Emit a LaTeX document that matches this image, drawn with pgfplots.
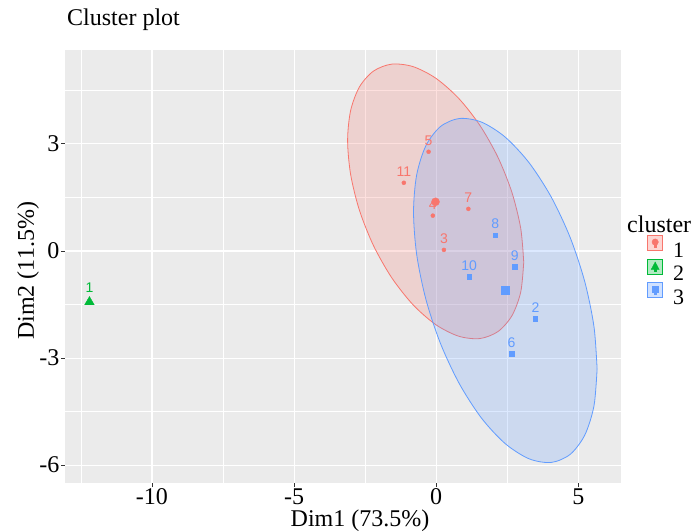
\documentclass[border=0pt]{standalone}
\usepackage{fontspec}
\setmainfont{Liberation Serif}
\newfontfamily\lsans{Liberation Sans}
\usepackage{pgfplots}
\usepackage{pgfplotstable}
\pgfplotsset{compat=1.18}
\definecolor{cred}{HTML}{F8766D}
\definecolor{cgreen}{HTML}{00BA38}
\definecolor{cblue}{HTML}{619CFF}
\definecolor{panel}{HTML}{EBEBEB}
\definecolor{tickc}{HTML}{333333}

\pgfplotstableread{
x y lab
-0.27 2.78 5
-1.14 1.91 11
-0.12 0.99 4
1.13 1.18 7
0.27 0.03 3
}\clusterone
\pgfplotstableread{
x y lab
-12.2 -1.43 1
}\clustertwo
\pgfplotstableread{
x y lab
2.08 0.45 8
2.76 -0.44 9
1.16 -0.72 10
3.49 -1.90 2
2.65 -2.88 6
}\clusterthree
\pgfplotstableread{
x y
3.078 -0.317
2.972 0.634
2.663 1.638
2.171 2.624
1.529 3.526
0.782 4.282
-0.020 4.842
-0.822 5.166
-1.569 5.234
-2.211 5.038
-2.703 4.594
-3.012 3.932
-3.118 3.097
-3.012 2.146
-2.703 1.142
-2.211 0.156
-1.569 -0.746
-0.822 -1.502
-0.020 -2.062
0.782 -2.386
1.529 -2.454
2.171 -2.258
2.663 -1.814
2.972 -1.152
3.078 -0.317
}\ellone
\pgfplotstableread{
x y
5.659 -3.305
5.549 -2.119
5.226 -0.863
4.713 0.375
4.045 1.512
3.266 2.472
2.430 3.187
1.594 3.610
0.816 3.712
0.147 3.485
-0.366 2.945
-0.689 2.129
-0.799 1.093
-0.689 -0.093
-0.366 -1.349
0.147 -2.587
0.816 -3.724
1.594 -4.684
2.430 -5.399
3.266 -5.822
4.045 -5.924
4.713 -5.697
5.226 -5.157
5.549 -4.341
5.659 -3.305
}\ellthree

\begin{document}
\begin{tikzpicture}
\begin{axis}[
  at={(0,0)}, anchor=south west,
  scale only axis, width=556pt, height=433pt,
  xmin=-13.06, xmax=6.5, ymin=-6.5, ymax=5.63,
  axis background/.style={fill=panel},
  axis line style={draw=none},
  xtick={-10,-5,0,5}, xticklabels={-10,-5,0,5},
  ytick={-6,-3,0,3}, yticklabels={-6,-3,0,3},
  minor xtick={-12.5,-7.5,-2.5,2.5},
  minor ytick={-4.5,-1.5,1.5,4.5},
  grid=both,
  major grid style={white, line width=1.1pt},
  minor grid style={white, line width=0.55pt},
  tick align=outside, xtick pos=bottom, ytick pos=left,
  major tick length=4pt, minor tick length=0pt,
  major tick style={color=tickc, line width=0.9pt},
  ticklabel style={font=\fontsize{24}{28}\selectfont, text=black},
  xticklabel style={inner sep=1.5pt},
  yticklabel style={inner sep=1.5pt},
  title={Cluster plot},
  title style={at={(axis description cs:0.0036,1.0416)}, anchor=base west, inner sep=0pt, font=\fontsize{24}{28}\selectfont},
  xlabel={Dim1 (73.5\%)},
  x label style={at={(axis description cs:0.5306,-0.0993)}, anchor=base, inner sep=0pt, font=\fontsize{24}{28}\selectfont},
  ylabel={Dim2 (11.5\%)},
  y label style={at={(axis description cs:-0.0665,0.49)}, anchor=center, inner sep=0pt, font=\fontsize{24}{28}\selectfont},
  clip=false,
  legend style={at={(axis description cs:1.0468,0.573)}, anchor=north west, draw=none, fill=none, inner sep=0pt,
    row sep=0pt, font=\fontsize{22}{24}\selectfont, nodes={inner sep=0pt},
    /tikz/every odd column/.append style={column sep=10pt}},
  legend cell align=left,
  every node near coord/.append style={font=\lsans\fontsize{14}{15}\selectfont, anchor=south, inner sep=0pt, yshift=6pt},
]
% legend entries
\addlegendimage{legend image code/.code={
  \draw[cred, fill=cred, fill opacity=0.3, line width=0.9pt] (0pt,0pt) rectangle (15pt,15pt);
  \fill[cred] (7.5pt,8.5pt) circle (3.2pt);
  \fill[cred] (7pt,3.5pt) rectangle (8.5pt,7pt);}}
\addlegendentry{1}
\addlegendimage{legend image code/.code={
  \draw[cgreen, fill=cgreen, fill opacity=0.3, line width=0.9pt] (0pt,0pt) rectangle (15pt,15pt);
  \fill[cgreen] (7.5pt,12pt) -- (3.5pt,4.5pt) -- (11.5pt,4.5pt) -- cycle;
  \fill[cgreen] (6.5pt,3pt) rectangle (8.5pt,5pt);}}
\addlegendentry{2}
\addlegendimage{legend image code/.code={
  \draw[cblue, fill=cblue, fill opacity=0.3, line width=0.9pt] (0pt,0pt) rectangle (15pt,15pt);
  \fill[cblue] (4.5pt,5pt) rectangle (10.5pt,11pt);
  \fill[cblue] (6.5pt,3.5pt) rectangle (8.5pt,5pt);}}
\addlegendentry{3}

% points with labels
\addplot[only marks, mark=*, mark size=2pt, color=cred, nodes near coords, point meta=explicit symbolic,
  every node near coord/.append style={text=cred}, forget plot]
  table[x=x, y=y, meta=lab] {\clusterone};
\addplot[only marks, mark=triangle*, mark size=3pt, color=cgreen, nodes near coords, point meta=explicit symbolic,
  every node near coord/.append style={text=cgreen, yshift=3pt}, forget plot]
  table[x=x, y=y, meta=lab] {\clustertwo};
\addplot[only marks, mark=square*, mark size=2.2pt, color=cblue, nodes near coords, point meta=explicit symbolic,
  every node near coord/.append style={text=cblue}, forget plot]
  table[x=x, y=y, meta=lab] {\clusterthree};

% ellipses
\addplot[smooth, draw=cred, line width=0.8pt, fill=cred, fill opacity=0.22, draw opacity=1, forget plot]
  table[x=x, y=y] {\ellone};
\addplot[smooth, draw=cblue, line width=0.8pt, fill=cblue, fill opacity=0.22, draw opacity=1, forget plot]
  table[x=x, y=y] {\ellthree};

% cluster centres
\addplot[only marks, mark=*, mark size=4pt, color=cred, forget plot] coordinates {(-0.026,1.378)};
\addplot[only marks, mark=triangle*, mark size=5.5pt, color=cgreen, forget plot] coordinates {(-12.2,-1.43)};
\addplot[only marks, mark=square*, mark size=4.2pt, color=cblue, forget plot] coordinates {(2.428,-1.098)};

\node[anchor=base west, inner sep=0pt, font=\fontsize{24}{28}\selectfont] at (axis description cs:1.0108,0.5774) {cluster};
\end{axis}
\pgfresetboundingbox
\path (-65pt,-48pt) rectangle (627pt,483pt);
\end{tikzpicture}
\end{document}
